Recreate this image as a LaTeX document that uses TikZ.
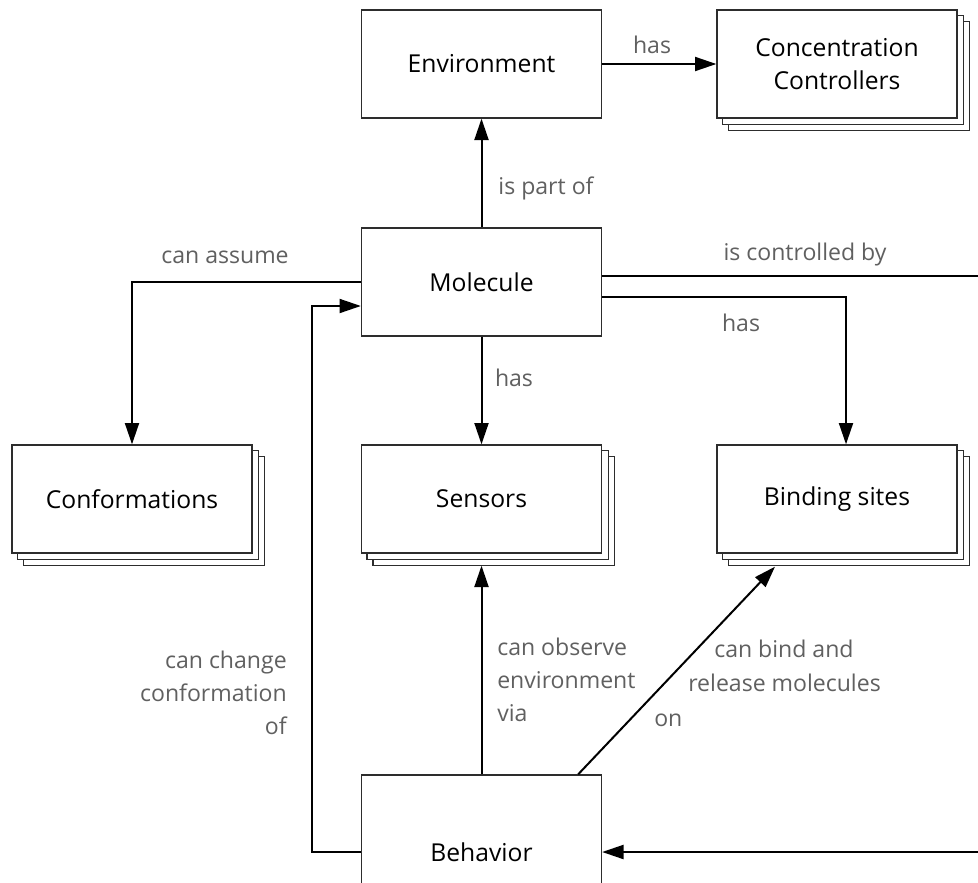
\documentclass[tikz,border=0pt]{standalone}
\usepackage{fontspec}
\setmainfont{Open Sans}
\usetikzlibrary{arrows.meta,backgrounds}
\definecolor{lblgray}{RGB}{96,96,96}
\definecolor{edgegray}{RGB}{45,45,45}
\tikzset{
  box/.style={draw=edgegray, line width=1pt, fill=white, minimum width=180pt,
    minimum height=81pt, inner sep=0pt, align=center,
    font=\fontsize{18.5}{25}\selectfont},
  link/.style={line width=1.5pt, -{Triangle[length=16pt,width=10.5pt]}},
  plainlink/.style={line width=1.5pt},
  lbl/.style={text=lblgray, inner sep=0pt, font=\fontsize{17.3}{25}\selectfont},
  copybox/.style={draw=edgegray, line width=1pt, fill=white},
}
% two offset copies drawn behind a node to give a stacked look
\newcommand{\stackcopies}[1]{%
  \begin{pgfonlayer}{background}
    \draw[copybox] ([shift={(12,12)}]#1.north west) rectangle ([shift={(12,12)}]#1.south east);
    \draw[copybox] ([shift={(6,6)}]#1.north west) rectangle ([shift={(6,6)}]#1.south east);
  \end{pgfonlayer}}
\begin{document}
\begin{tikzpicture}[x=0.75pt,y=-0.75pt]
\useasboundingbox (0,0) rectangle (978,882);
\clip (0,0) rectangle (978,882);
\begin{pgfonlayer}{background}
  \fill[white] (0,0) rectangle (978,882);
\end{pgfonlayer}

% boxes
\node[box] (env)  at (481.5,64)  {Environment};
\node[box] (cc)   at (837,64)    {Concentration\\Controllers};
\node[box] (mol)  at (481.5,282) {Molecule};
\node[box] (conf) at (132,499)   {Conformations};
\node[box] (sens) at (481.5,499) {Sensors};
\node[box] (bind) at (837,499)   {Binding sites};
\node[box, minimum height=115.5pt] (beh) at (481.5,852) {Behavior};
\stackcopies{cc}
\stackcopies{conf}
\stackcopies{sens}
\stackcopies{bind}

% free ends at the border
\coordinate (ctrlout) at (978,276);
\coordinate (ctrlin)  at (978,852);

% connectors
\draw[link] (env.east) -- (cc.west);
\draw[link] (mol.north) -- (env.south);
\draw[link] (mol.south) -- (sens.north);
\draw[link] (mol.west) -| (conf.north);
\draw[plainlink] (mol.east |- ctrlout) -- (ctrlout);
\draw[link] ([shift={(0,15)}]mol.east) -| ([shift={(9,0)}]bind.north);
\draw[link] (beh.north) -- ([shift={(0,12)}]sens.south);
\draw[link] ([shift={(-24,0)}]beh.north east) -- ([shift={(-62,13)}]bind.south);
\draw[link] (beh.west) -| ([shift={(-49,24)}]mol.west) -- ([shift={(0,24)}]mol.west);
\draw[link] (ctrlin) -- (beh.east);

% connector labels
\node[lbl] (l1) at (652,45)  {has};
\node[lbl] (l2) at (546,188) {is part of};
\node[lbl] (l3) at (225,257) {can assume};
\node[lbl] (l4) at (805,255) {is controlled by};
\node[lbl] (l5) at (741,323) {has};
\node[lbl] (l6) at (514,378) {has};
\node[lbl, anchor=west, align=left] (l7) at (497,680) {can observe\\environment\\via};
\node[lbl, anchor=east, align=right] (l8) at (287,693) {can change\\conformation\\of};
\node[lbl, anchor=base west] (l9a) at (714,657) {can bind and};
\node[lbl, anchor=base west] (l9b) at (688,691) {release molecules};
\node[lbl, anchor=base west] (l9c) at (654,726) {on};
\end{tikzpicture}
\end{document}
